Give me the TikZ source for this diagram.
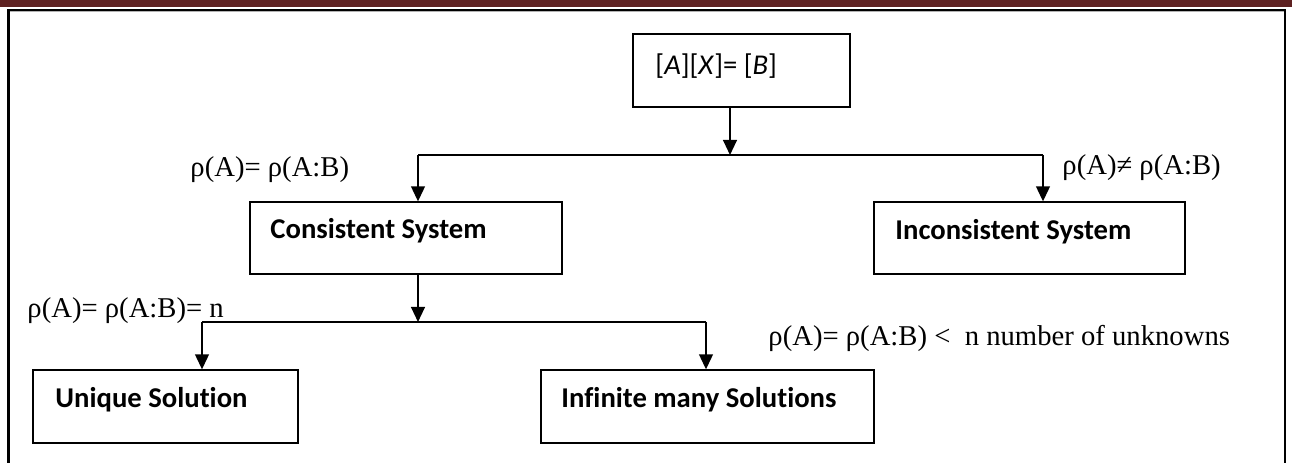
\documentclass[tikz,border=0pt]{standalone}
\usepackage{fontspec}
\setmainfont{Liberation Serif}
\newfontfamily\cali[Ligatures=NoCommon]{Carlito}
\usetikzlibrary{arrows.meta,fit}
\definecolor{maroon}{RGB}{94,33,33}
\begin{document}
\begin{tikzpicture}[x=0.4185pt,y=-0.4185pt,
  box/.style={draw, line width=0.55pt, inner sep=0pt},
  btxt/.style={font=\cali\bfseries\fontsize{12}{14}\selectfont, anchor=base west, inner sep=0pt},
  lbl/.style={font=\fontsize{12}{14}\selectfont, anchor=base west, inner sep=0pt},
  ln/.style={line width=0.7pt},
  arr/.style={line width=0.7pt, -{Triangle[width=5.8pt,length=6.3pt]}}]
\useasboundingbox (0,0) rectangle (1292,463);
\fill[maroon] (0,0) rectangle (1292,7.5);
\draw[gray!60, line width=0.5pt] (10,11.5) -- (1284,11.5);
\draw[line width=0.85pt] (8.5,463) -- (8.5,10) -- (1285,10) -- (1285,463);
% boxes
\node[box, fit={(633,34) (850,107)}] (top) {};
\node[box, fit={(250,202) (562,274)}] (cons) {};
\node[box, fit={(874,202) (1185,274)}] (incons) {};
\node[box, fit={(33,370) (298,443)}] (uniq) {};
\node[box, fit={(541,370) (874,443)}] (inf) {};
% box texts
\node[anchor=base west, inner sep=0pt, font=\cali\fontsize{12}{14}\selectfont] (ttop) at (655,75) {[\textit{A}][\textit{X}]= [\textit{B}]};
\node[btxt] (tcons) at (270,239) {Consistent System};
\node[btxt] (tincons) at (895,240) {Inconsistent System};
\node[btxt] (tuniq) at (55,408) {Unique Solution};
\node[btxt] (tinf) at (561,408) {Infinite many Solutions};
% labels
\node[lbl] (l1) at (190,177) {ρ(A)= ρ(A:B)};
\node[lbl] (l2) at (1062,175) {ρ(A)≠ ρ(A:B)};
\node[lbl] (l3) at (27,318) {ρ(A)= ρ(A:B)= n};
\node[lbl] (l4) at (768,346) {ρ(A)= ρ(A:B) <\ \ n number of unknowns};
% connectors
\coordinate (j1) at (730,155);
\coordinate (a1) at (418,155);
\coordinate (b1) at (1043,155);
\coordinate (j2) at (418,322);
\coordinate (a2) at (202,322);
\coordinate (b2) at (706,322);
\draw[arr] (top.south -| j1) -- (j1);
\draw[ln] (a1) -- (b1);
\draw[arr] (a1) -- (cons.north -| a1);
\draw[arr] (b1) -- (incons.north -| b1);
\draw[arr] (cons.south -| j2) -- (j2);
\draw[ln] (a2) -- (b2);
\draw[arr] (a2) -- (uniq.north -| a2);
\draw[arr] (b2) -- (inf.north -| b2);
\end{tikzpicture}
\end{document}
